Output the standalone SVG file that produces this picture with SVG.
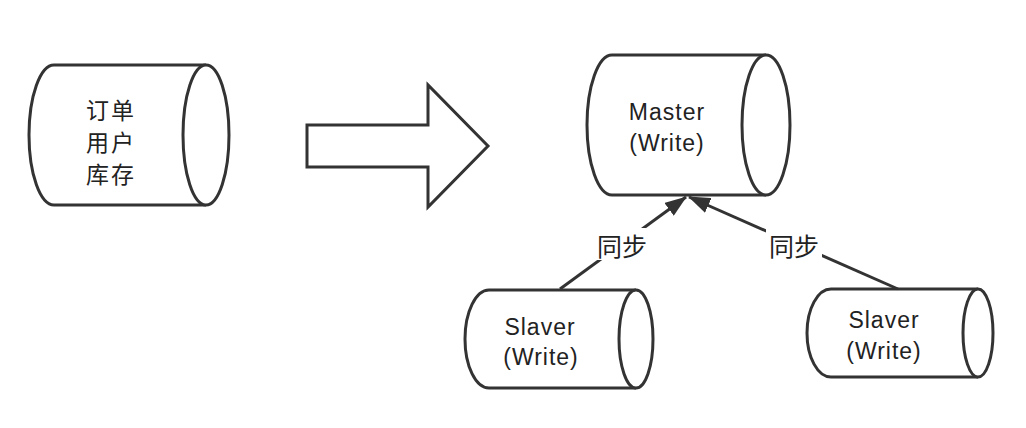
<svg xmlns="http://www.w3.org/2000/svg" width="1026" height="428" viewBox="0 0 1026 428">
<style>
.shape{fill:#fff;stroke:#333;stroke-width:3}
.edge{fill:none;stroke:#333;stroke-width:3}
.t{font-family:"Liberation Sans","Noto Sans CJK SC",sans-serif;font-size:23px;fill:#222;text-anchor:middle;letter-spacing:1px}
.c{font-family:"Noto Sans CJK SC",sans-serif;font-size:25px;fill:#222;text-anchor:middle}
.cl{font-family:"Noto Sans CJK SC",sans-serif;font-size:23px;fill:#222;text-anchor:middle;letter-spacing:2px}
</style>
<defs>
<marker id="ah" viewBox="0 0 22 16" refX="21" refY="8" markerWidth="22" markerHeight="16" markerUnits="userSpaceOnUse" orient="auto">
<path d="M0,0 L22,8 L0,16 Z" fill="#333"/>
</marker>
</defs>
<rect width="1026" height="428" fill="#fff"/>
<g id="db-left">
<path class="shape" d="M206,65 L54,65 A25,70 0 0 0 54,205 L206,205"/>
<ellipse class="shape" cx="206" cy="135" rx="23" ry="70"/>
<text class="cl" x="111" y="119">订单</text>
<text class="cl" x="111" y="151">用户</text>
<text class="cl" x="111" y="183">库存</text>
</g>
<g id="big-arrow">
<path class="shape" d="M307,125 L428,125 L428,85 L488,146 L428,207 L428,167 L307,167 Z"/>
</g>
<g id="master">
<path class="shape" d="M766,55 L612,55 A25,70 0 0 0 612,195 L766,195"/>
<ellipse class="shape" cx="766" cy="125" rx="24" ry="70"/>
<text class="t" x="667" y="120">Master</text>
<text class="t" x="667" y="151">(Write)</text>
</g>
<g id="slave1">
<path class="shape" d="M636,290 L489,290 A24,49 0 0 0 489,388 L636,388"/>
<ellipse class="shape" cx="636" cy="339" rx="17" ry="49"/>
<text class="t" x="540" y="335">Slaver</text>
<text class="t" x="541" y="365">(Write)</text>
</g>
<g id="slave2">
<path class="shape" d="M978,289 L831,289 A24,44 0 0 0 831,377 L978,377"/>
<ellipse class="shape" cx="978" cy="333" rx="15" ry="44"/>
<text class="t" x="884" y="328">Slaver</text>
<text class="t" x="884" y="359">(Write)</text>
</g>
<g id="connectors">
<path class="edge" d="M560,289 L686,197" marker-end="url(#ah)"/>
<path class="edge" d="M898,289 L689,197" marker-end="url(#ah)"/>
<rect x="594" y="228" width="56" height="32" fill="#fff"/>
<text class="c" x="622" y="256">同步</text>
<rect x="766" y="228" width="56" height="32" fill="#fff"/>
<text class="c" x="794" y="256">同步</text>
</g>
</svg>
